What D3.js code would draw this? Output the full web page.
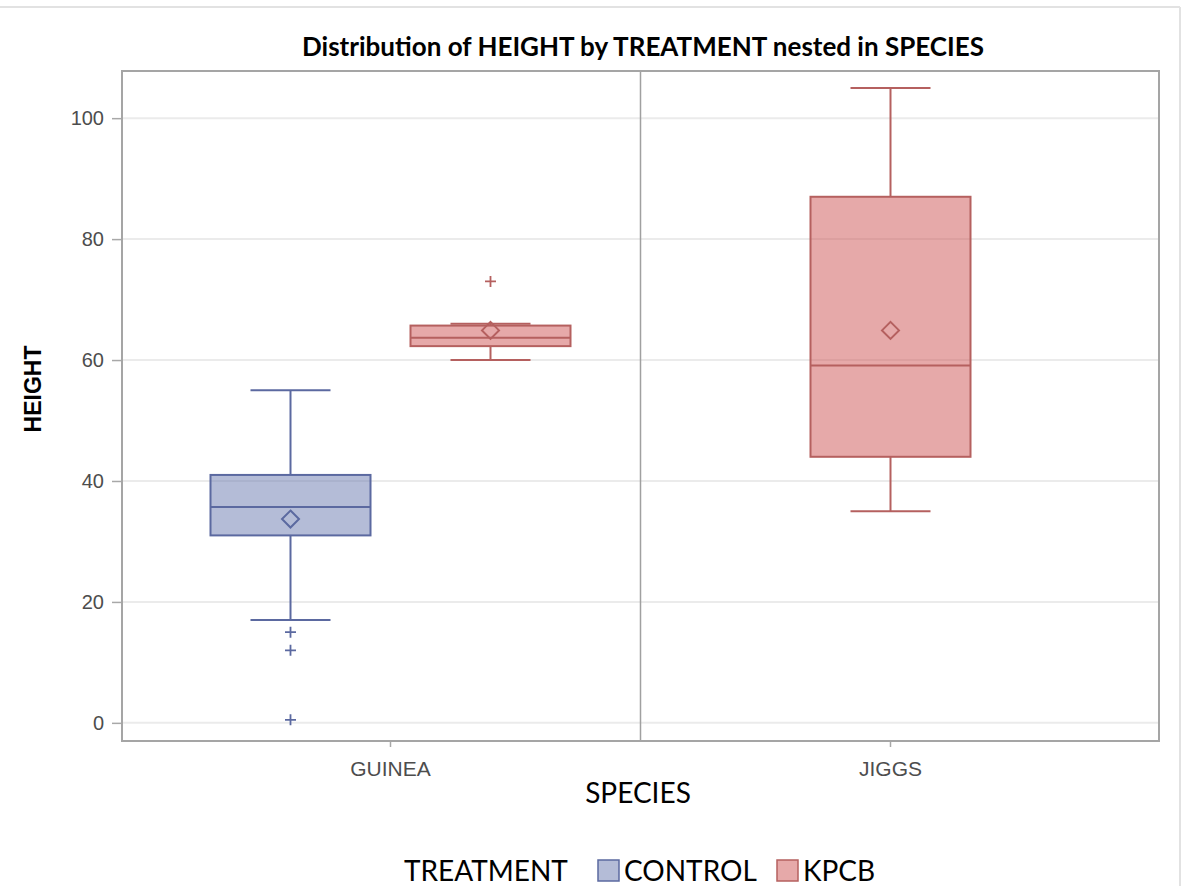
<!DOCTYPE html>
<meta charset="utf-8">
<style>
body { margin: 0; background: #fff; }
svg { display: block; }
</style>
<svg width="1189" height="886"></svg>
<script src="https://cdn.jsdelivr.net/npm/d3@7"></script>
<script>
// box plot summary values
var species = ["GUINEA", "JIGGS"]
var treatments = ["CONTROL", "KPCB"]

var groupSpecies = ["GUINEA", "GUINEA", "JIGGS"]
var groupTreatment = ["CONTROL", "KPCB", "KPCB"]
var whiskerLow = [17, 60, 35]
var q1 = [31, 62.3, 44]
var median = [35.7, 63.7, 59.1]
var q3 = [41, 65.7, 87]
var whiskerHigh = [55, 66, 105]
var means = [33.7, 64.9, 64.9]
var outliers = [[15, 12, 0.5], [73], []]

var yTicks = [0, 20, 40, 60, 80, 100]

var fillColor = { CONTROL: "#6f7eb3", KPCB: "#d05b5b" }
var lineColor = { CONTROL: "#5b69a0", KPCB: "#b5605f" }

var svg = d3.select("svg")

// frame of the plot area
var plotL = 122, plotR = 1159, plotT = 71, plotB = 741

var x = d3.scaleBand()
  .domain(species)
  .range([plotL, plotR])
  .paddingInner(0)
  .paddingOuter(0.037)

var y = d3.scaleLinear()
  .domain([-3, 107.8])
  .range([plotB, plotT])

// outer border of the picture
svg.append("line").attr("x1", 0).attr("x2", 1180).attr("y1", 7).attr("y2", 7)
  .attr("stroke", "#e2e2e2").attr("stroke-width", 2)
svg.append("line").attr("x1", 1180).attr("x2", 1180).attr("y1", 7).attr("y2", 886)
  .attr("stroke", "#e2e2e2").attr("stroke-width", 2)

// grid lines
svg.append("g").selectAll("line")
  .data(yTicks)
  .enter().append("line")
  .attr("x1", plotL).attr("x2", plotR)
  .attr("y1", function (d) { return y(d) })
  .attr("y2", function (d) { return y(d) })
  .attr("stroke", "#ebebeb")
  .attr("stroke-width", 2)

// y axis
var yAxis = svg.append("g")
  .attr("transform", "translate(" + plotL + ",0)")
  .call(d3.axisLeft(y).tickValues(yTicks).tickSize(10).tickPadding(8))
yAxis.select(".domain").remove()
yAxis.selectAll(".tick line").attr("stroke", "#a8a8a8").attr("stroke-width", 1.5)
yAxis.selectAll(".tick text")
  .attr("font-family", "Liberation Sans, Arial, sans-serif")
  .attr("font-size", 20)
  .attr("fill", "#4d4d4d")

// x axis
var xAxis = svg.append("g")
  .attr("transform", "translate(0," + plotB + ")")
  .call(d3.axisBottom(x).tickSize(6).tickPadding(14))
xAxis.select(".domain").remove()
xAxis.selectAll(".tick line").attr("stroke", "#a8a8a8").attr("stroke-width", 1.5)
xAxis.selectAll(".tick text")
  .attr("font-family", "Liberation Sans, Arial, sans-serif")
  .attr("font-size", 21)
  .attr("fill", "#4d4d4d")

// divider between the species cells
svg.append("line")
  .attr("x1", x("JIGGS")).attr("x2", x("JIGGS"))
  .attr("y1", plotT).attr("y2", plotB)
  .attr("stroke", "#a0a0a0").attr("stroke-width", 1.5)

// frame
svg.append("rect")
  .attr("x", plotL).attr("y", plotT)
  .attr("width", plotR - plotL).attr("height", plotB - plotT)
  .attr("fill", "none")
  .attr("stroke", "#a5a5a5")
  .attr("stroke-width", 2)

// boxes
var boxWidth = x.bandwidth() * 0.32

function groupCenter(i) {
  var sp = groupSpecies[i]
  var present = treatments.filter(function (t) {
    return groupSpecies.some(function (s, j) { return s === sp && groupTreatment[j] === t })
  })
  var inner = d3.scaleBand()
    .domain(present)
    .range([0, x.bandwidth()])
    .paddingInner(0.2)
    .paddingOuter(0.35)
  return x(sp) + inner(groupTreatment[i]) + inner.bandwidth() / 2
}

var groups = svg.append("g").selectAll("g")
  .data(d3.range(groupSpecies.length))
  .enter().append("g")

groups.each(function (i) {
  var g = d3.select(this)
  var cx = groupCenter(i)
  var t = groupTreatment[i]
  var col = lineColor[t]

  // whiskers
  g.append("line")
    .attr("x1", cx).attr("x2", cx)
    .attr("y1", y(whiskerHigh[i])).attr("y2", y(q3[i]))
    .attr("stroke", col).attr("stroke-width", 2)
  g.append("line")
    .attr("x1", cx).attr("x2", cx)
    .attr("y1", y(q1[i])).attr("y2", y(whiskerLow[i]))
    .attr("stroke", col).attr("stroke-width", 2)
  ;[whiskerLow[i], whiskerHigh[i]].forEach(function (v) {
    g.append("line")
      .attr("x1", cx - boxWidth / 4).attr("x2", cx + boxWidth / 4)
      .attr("y1", y(v)).attr("y2", y(v))
      .attr("stroke", col).attr("stroke-width", 2)
  })

  // box
  g.append("rect")
    .attr("x", cx - boxWidth / 2)
    .attr("y", y(q3[i]))
    .attr("width", boxWidth)
    .attr("height", y(q1[i]) - y(q3[i]))
    .attr("fill", fillColor[t])
    .attr("fill-opacity", 0.52)
    .attr("stroke", col)
    .attr("stroke-width", 2)

  // median
  g.append("line")
    .attr("x1", cx - boxWidth / 2).attr("x2", cx + boxWidth / 2)
    .attr("y1", y(median[i])).attr("y2", y(median[i]))
    .attr("stroke", col).attr("stroke-width", 2)

  // mean
  var my = y(means[i])
  g.append("path")
    .attr("d", "M" + cx + "," + (my - 8.5) + "L" + (cx + 8.5) + "," + my + "L" + cx + "," + (my + 8.5) + "L" + (cx - 8.5) + "," + my + "Z")
    .attr("fill", "none")
    .attr("stroke", col)
    .attr("stroke-width", 2)

  // outliers
  g.selectAll(".out")
    .data(outliers[i])
    .enter().append("path")
    .attr("class", "out")
    .attr("d", function (v) {
      var oy = y(v)
      return "M" + (cx - 5.5) + "," + oy + "H" + (cx + 5.5) + "M" + cx + "," + (oy - 5.5) + "V" + (oy + 5.5)
    })
    .attr("stroke", col)
    .attr("stroke-width", 1.8)
})

// titles
svg.append("text")
  .attr("x", 643).attr("y", 56)
  .attr("text-anchor", "middle")
  .attr("font-family", "Lato, sans-serif")
  .attr("font-weight", "bold")
  .attr("font-size", 26)
  .text("Distribution of HEIGHT by TREATMENT nested in SPECIES")

svg.append("text")
  .attr("transform", "translate(41,389) rotate(-90)")
  .attr("text-anchor", "middle")
  .attr("font-family", "Liberation Sans, Arial, sans-serif")
  .attr("font-weight", "bold")
  .attr("font-size", 23)
  .text("HEIGHT")

svg.append("text")
  .attr("x", 638).attr("y", 803)
  .attr("text-anchor", "middle")
  .attr("font-family", "Lato, sans-serif")
  .attr("font-size", 28)
  .text("SPECIES")

// legend
var legend = svg.append("g").attr("font-family", "Lato, sans-serif").attr("font-size", 28)
legend.append("text").attr("x", 404).attr("y", 881).text("TREATMENT")
var legendX = { CONTROL: 598, KPCB: 777 }
treatments.forEach(function (t) {
  legend.append("rect")
    .attr("x", legendX[t]).attr("y", 860)
    .attr("width", 21).attr("height", 21)
    .attr("fill", fillColor[t]).attr("fill-opacity", 0.52)
    .attr("stroke", lineColor[t]).attr("stroke-width", 1.5)
  legend.append("text")
    .attr("x", legendX[t] + 26).attr("y", 881)
    .text(t)
})
</script>
